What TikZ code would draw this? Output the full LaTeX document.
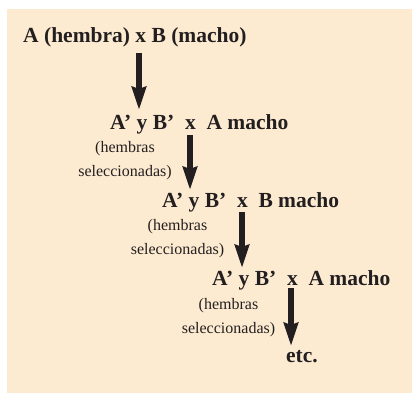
\documentclass[tikz,border=0pt]{standalone}
\usepackage{fontspec}
\setmainfont{Liberation Serif}
\usetikzlibrary{arrows.meta}
\definecolor{bgpeach}{RGB}{253,235,209}
\definecolor{ink}{RGB}{35,31,32}
\begin{document}
\begin{tikzpicture}[x=1pt,y=-1pt,
  cross/.style={anchor=base west,inner sep=0pt,text=ink,font=\fontsize{21.5}{24}\selectfont\bfseries},
  note/.style={anchor=base,inner sep=0pt,text=ink,align=center,font=\fontsize{16}{23.5}\selectfont},
  flow/.style={draw=ink,line width=6pt,-{Stealth[length=23pt,width=14pt,inset=2pt]}}]
\useasboundingbox (0,0) rectangle (412,393);
\fill[bgpeach] (7,9) rectangle (412,393);
\node[cross] (l1) at (23,43) {A (hembra) x B (macho)};
\node[cross] (l2) at (110,130) {A’ y B’\ \ x\ \ A macho};
\node[cross] (l3) at (162,207) {A’ y B’\ \ x\ \ B macho};
\node[cross] (l4) at (212,285) {A’ y B’\ \ x\ \ A macho};
\node[cross] (l5) at (286,362) {etc.};
\node[note] (n2) at (125,176) {(hembras\\seleccionadas)};
\node[note] (n3) at (177.5,254) {(hembras\\seleccionadas)};
\node[note] (n4) at (228.5,333) {(hembras\\seleccionadas)};
\coordinate (s1) at (139,53);  \coordinate (e1) at (139,110);
\coordinate (s2) at (190,135); \coordinate (e2) at (190,190);
\coordinate (s3) at (242,212); \coordinate (e3) at (242,268);
\coordinate (s4) at (291,288); \coordinate (e4) at (291,346);
\draw[flow] (s1) -- (e1);
\draw[flow] (s2) -- (e2);
\draw[flow] (s3) -- (e3);
\draw[flow] (s4) -- (e4);
\end{tikzpicture}
\end{document}
